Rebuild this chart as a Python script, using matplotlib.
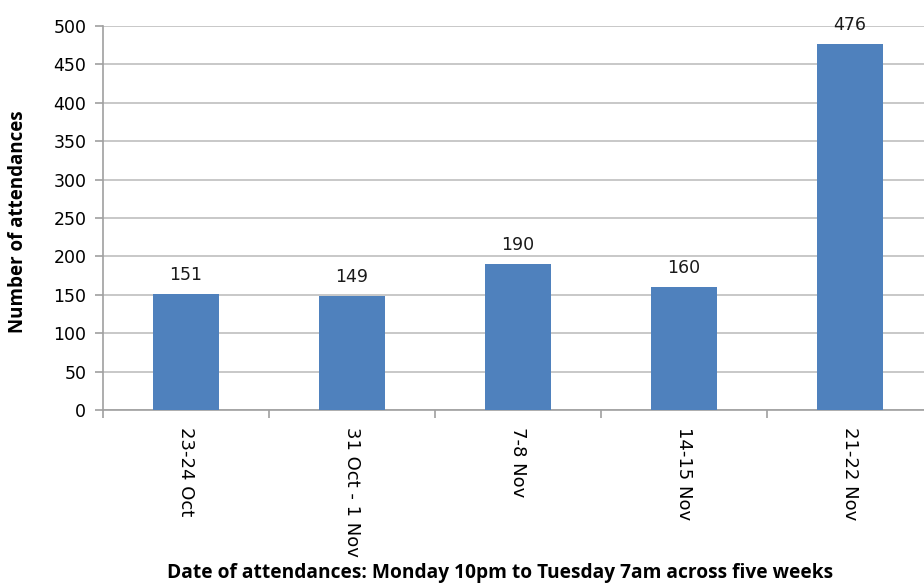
import matplotlib
matplotlib.use("Agg")
import matplotlib.pyplot as plt
import numpy as np

plt.rcParams["font.family"] = ["DejaVu Sans"]

categories = ["23-24 Oct", "31 Oct - 1 Nov", "7-8 Nov", "14-15 Nov", "21-22 Nov"]
values = [151, 149, 190, 160, 476]

W, H = 924, 584
fig = plt.figure(figsize=(W/100, H/100), dpi=100)
x0, x1 = 103, 933
y0, y1 = 410, 26
ax = fig.add_axes([x0/W, (H-y0)/H, (x1-x0)/W, (y0-y1)/H])

xs = np.arange(len(categories))
ax.bar(xs, values, width=0.4, color="#4f81bd", zorder=3)
for xi, v in zip(xs, values):
    ax.text(xi, v + 13, str(v), ha="center", va="bottom", fontsize=12.5, color="#1a1a1a")

ax.set_xlim(-0.5, len(categories) - 0.5)
ax.set_ylim(0, 500)
ax.set_yticks(np.arange(0, 501, 50))
ax.yaxis.grid(True, color="#bfbfbf", linewidth=1.2, zorder=0)
ax.set_axisbelow(True)

ax.set_xticks(np.arange(-0.5, len(categories), 1.0))
ax.set_xticklabels([])
ax.set_xticks(xs, minor=True)
ax.set_xticklabels(categories, minor=True, rotation=-90, fontsize=13, va="top", ha="center")
ax.tick_params(axis="x", which="minor", length=0, pad=12)
ax.tick_params(axis="x", which="major", length=6, color="#a0a0a0", width=1.2)
ax.tick_params(axis="y", length=6, color="#a0a0a0", width=1.2, labelsize=12.5, pad=6)

for s in ["top", "right"]:
    ax.spines[s].set_visible(False)
for s in ["left", "bottom"]:
    ax.spines[s].set_color("#a0a0a0")
    ax.spines[s].set_linewidth(1.2)

fig.text(18/W, 1 - 222/H, "Number of attendances", rotation=90, ha="center", va="center",
         fontsize=13.5, fontweight="bold", family="Open Sans")
fig.text(500/W, 1 - 573/H, "Date of attendances: Monday 10pm to Tuesday 7am across five weeks",
         ha="center", va="center", fontsize=13.8, fontweight="bold", family="Open Sans")

fig.savefig("out.png", dpi=100)
